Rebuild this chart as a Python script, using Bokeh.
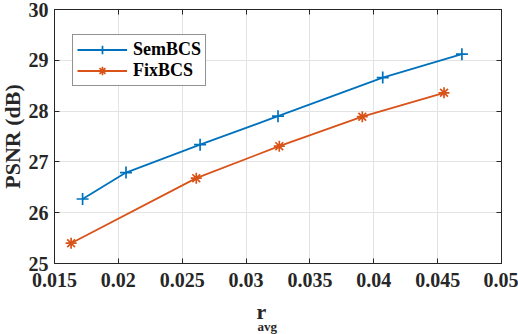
from bokeh.plotting import figure
from bokeh.models import LinearAxis, Range1d, FixedTicker, Legend, Title
from bokeh.embed import file_html
from bokeh.resources import INLINE

# ---- data ----
sem_x = [0.0172, 0.0206, 0.0264, 0.0325, 0.0407, 0.0469]
sem_y = [26.27, 26.79, 27.34, 27.90, 28.66, 29.12]
fix_x = [0.0163, 0.0261, 0.0326, 0.0391, 0.0455]
fix_y = [25.40, 26.68, 27.31, 27.89, 28.36]
x_ticks = [0.015, 0.02, 0.025, 0.03, 0.035, 0.04, 0.045, 0.05]
x_tick_labels = ["0.015", "0.02", "0.025", "0.03", "0.035", "0.04", "0.045", "0.05"]
y_ticks = [25, 26, 27, 28, 29, 30]
series_names = ["SemBCS", "FixBCS"]
y_title = "PSNR (dB)"
x_title_main = "r"
x_title_sub = "avg"

FONT = "Liberation Serif"
AX = "#262626"
BLUE = "#0072BD"
ORANGE = "#D95319"

p = figure(width=518, height=334, output_backend="svg", toolbar_location=None,
           x_range=Range1d(0.015, 0.05), y_range=Range1d(25, 30),
           min_border_left=54, min_border_right=17, min_border_top=9, min_border_bottom=71,
           x_axis_location=None, y_axis_location=None)
p.outline_line_color = AX
p.outline_line_width = 1
p.background_fill_color = "white"
p.border_fill_color = "white"

def make_axis(pos, ticks, labels=None, show_labels=True):
    ax = LinearAxis(ticker=FixedTicker(ticks=ticks))
    ax.axis_line_color = AX
    ax.major_tick_line_color = AX
    ax.major_tick_in = 5
    ax.major_tick_out = 0
    ax.minor_tick_line_color = None
    ax.major_label_text_font = FONT
    ax.major_label_text_font_style = "bold"
    ax.major_label_text_color = AX
    if show_labels:
        ax.major_label_text_font_size = "20px"
        if labels is not None:
            ax.major_label_overrides = {t: l for t, l in zip(ticks, labels)}
    else:
        ax.major_label_text_font_size = "1px"
        ax.major_label_text_color = None
        ax.major_label_standoff = 0
    p.add_layout(ax, pos)
    return ax

bx = make_axis("below", x_ticks, x_tick_labels)
bx.major_label_standoff = 9
ly = make_axis("left", y_ticks)
ly.major_label_standoff = 6
make_axis("above", x_ticks, show_labels=False)
make_axis("right", y_ticks, show_labels=False)

p.xgrid.ticker = FixedTicker(ticks=x_ticks)
p.ygrid.ticker = FixedTicker(ticks=y_ticks)
p.grid.grid_line_color = "#e3e3e3"
p.grid.grid_line_width = 1

l1 = p.line(sem_x, sem_y, line_color=BLUE, line_width=1.8)
s1 = p.scatter(sem_x, sem_y, marker="cross", size=12, line_color=BLUE, line_width=1.7)
l2 = p.line(fix_x, fix_y, line_color=ORANGE, line_width=1.8)
s2 = p.scatter(fix_x, fix_y, marker="asterisk", size=11, line_color=ORANGE, line_width=1.7)

legend = Legend(items=[(series_names[0], [l1, s1]), (series_names[1], [l2, s2])],
                location=(18, 177))
legend.label_text_font = FONT
legend.label_text_font_style = "bold"
legend.label_text_font_size = "18px"
legend.label_text_color = "black"
legend.border_line_color = AX
legend.border_line_width = 1
legend.background_fill_alpha = 1
legend.glyph_width = 50
legend.glyph_height = 21
legend.label_height = 21
legend.label_standoff = 6
legend.padding = 4
legend.spacing = 0
legend.margin = 0
p.add_layout(legend, "center")

# axis titles
yt = Title(text=y_title, align="center", standoff=-2, vertical_align="top",
           text_font=FONT, text_font_style="bold", text_font_size="22px", text_color=AX)
p.add_layout(yt, "left")

xt = Title(text=x_title_main, align="left", offset=202, standoff=14, vertical_align="bottom",
           text_font=FONT, text_font_style="bold", text_font_size="22px", text_color=AX)
p.add_layout(xt, "below")
xs = Title(text=x_title_sub, align="left", offset=203, standoff=-23, vertical_align="top",
           text_font=FONT, text_font_style="bold", text_font_size="13px", text_color=AX)
p.add_layout(xs, "below")

open("out.html", "w").write(file_html(p, INLINE))
